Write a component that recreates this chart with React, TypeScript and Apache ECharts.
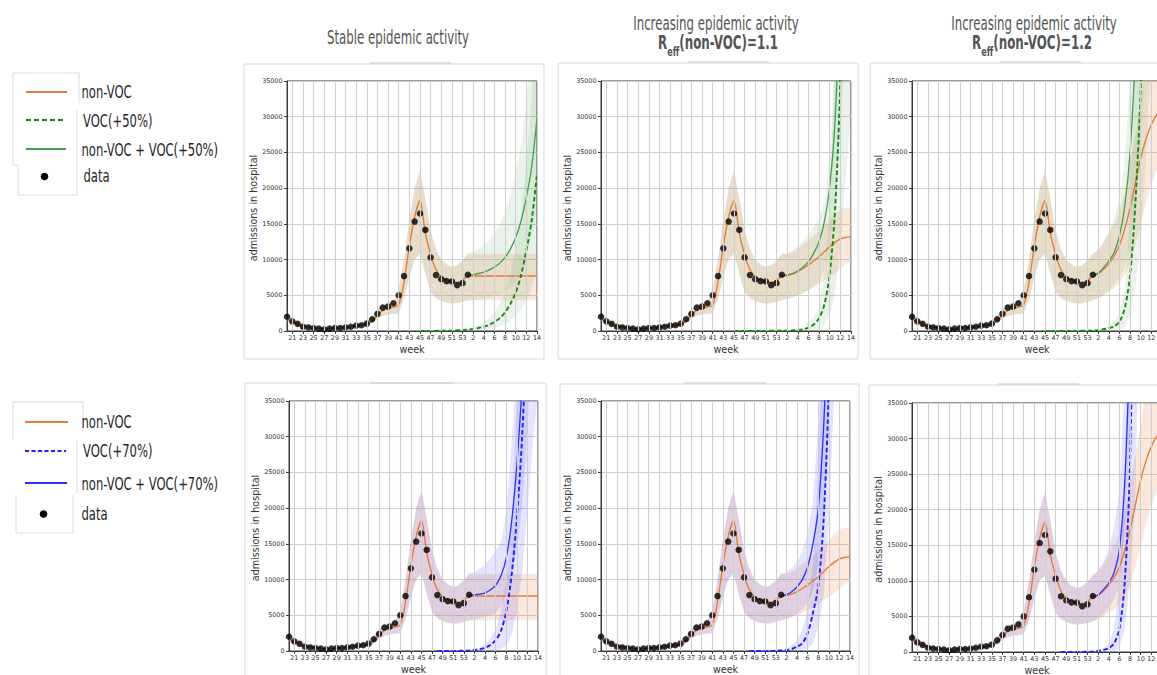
import React, { useEffect, useRef } from "react";
import * as echarts from "echarts";

// ---------- DATA ----------
// x index 0..47 : weeks 20..53 (2020) then 1..14 (2021)
const weekLabels = [
  "20", "21", "22", "23", "24", "25", "26", "27", "28", "29", "30", "31", "32", "33", "34", "35", "36",
  "37", "38", "39", "40", "41", "42", "43", "44", "45", "46", "47", "48", "49", "50", "51", "52", "53",
  "1", "2", "3", "4", "5", "6", "7", "8", "9", "10", "11", "12", "13", "14",
];

// observed weekly admissions, index 0..34
const observedAdmissions = [2000, 1350, 1000, 600, 500, 420, 330, 250, 330, 420, 420, 500, 600, 750, 800, 1030, 1640, 2390, 3280, 3420, 3890, 5010, 7690, 11570, 15320, 16450, 14150, 10310, 7830, 7260, 6980, 6940, 6420, 6700, 7870];

// fitted non-VOC model, index 0..34
const fitNonVoc = [1700, 1300, 950, 700, 550, 430, 350, 300, 320, 380, 430, 500, 580, 680, 780, 950, 1400, 2200, 2900, 3150, 3350, 3650, 6900, 11900, 16000, 18200, 13700, 10700, 8600, 7600, 7200, 6900, 6800, 7100, 7700];
const fitLow = [1300, 950, 700, 500, 400, 300, 250, 200, 220, 260, 300, 350, 420, 500, 580, 700, 1050, 1700, 2100, 2300, 2400, 2500, 4500, 7500, 10000, 10800, 8000, 5500, 4600, 4200, 3950, 3850, 3900, 4100, 4300];
const fitHigh = [2700, 1900, 1400, 1000, 800, 650, 520, 450, 480, 550, 620, 720, 850, 1000, 1150, 1400, 2000, 3000, 3700, 3900, 4100, 5800, 10000, 15500, 20000, 22500, 18500, 14000, 11500, 10000, 9300, 9000, 9200, 9900, 10800];

// non-VOC forecasts, index 34..47
const nonVocStable = [7700, 7700, 7700, 7700, 7700, 7700, 7700, 7700, 7700, 7700, 7700, 7700, 7700, 7700];
const nonVocStableLow = [4300, 4300, 4300, 4300, 4300, 4300, 4300, 4300, 4300, 4300, 4300, 4300, 4300, 4300];
const nonVocStableHigh = [10800, 10800, 10800, 10800, 10800, 10800, 10800, 10800, 10800, 10800, 10800, 10800, 10800, 10800];
const nonVocR11 = [7700, 7750, 7950, 8300, 8750, 9250, 9800, 10400, 11100, 11800, 12400, 12900, 13100, 13200];
const nonVocR11Low = [4300, 4500, 4700, 5000, 5300, 5700, 6100, 6600, 7100, 7600, 8100, 8700, 9300, 9800];
const nonVocR11High = [10800, 10800, 11100, 11600, 12100, 12700, 13300, 14000, 14700, 15500, 16300, 17000, 17300, 17300];
const nonVocR12 = [7700, 8000, 8600, 9400, 10500, 12000, 14300, 17200, 20700, 24200, 26900, 28900, 30300, 31300];
const nonVocR12Low = [4300, 4600, 5000, 5500, 6000, 6700, 7800, 9500, 12000, 15000, 18000, 20500, 22500, 24000];
const nonVocR12High = [10800, 11300, 12300, 13600, 15000, 16500, 19500, 23500, 27500, 32000, 37000, 42000, 46000, 50000];

// VOC forecasts, index 25..47
const voc50Stable = [7, 10, 15, 22, 30, 45, 65, 95, 140, 200, 290, 420, 600, 870, 1250, 1800, 2600, 3800, 5400, 7800, 11300, 15500, 22000];
const voc50StableLow = [3, 4, 6, 8, 12, 17, 25, 37, 54, 77, 110, 160, 230, 330, 480, 690, 1000, 1460, 2100, 3000, 4300, 6000, 8500];
const voc50StableHigh = [15, 21, 32, 46, 63, 95, 140, 200, 290, 420, 610, 880, 1260, 1830, 2600, 3800, 5500, 8000, 11300, 16400, 23700, 32500, 46000];
const voc50R11 = [5, 6, 8, 10, 13, 17, 22, 28, 37, 50, 70, 100, 150, 230, 470, 900, 1800, 3700, 8000, 17000, 35000, 70000, null];
const voc50R11Low = [0, 0, 0, 0, 0, 0, 0, 0, 0, 5, 10, 15, 25, 40, 80, 170, 350, 900, 2200, 5500, 11600, 21800, 30500];
const voc50R11High = [10, 12, 16, 20, 26, 34, 44, 56, 74, 100, 140, 200, 300, 500, 1200, 2000, 3200, 7800, 17100, 40000, 80000, 150000, 200000];
const voc50R12 = [5, 6, 8, 10, 13, 17, 22, 30, 40, 60, 120, 250, 400, 650, 1300, 3200, 7800, 18000, 34000, 65000, null, null, null];
const voc50R12Low = [0, 0, 0, 0, 0, 0, 0, 0, 0, 5, 15, 30, 60, 110, 200, 500, 2200, 6000, 12500, 24000, 40000, 70000, 120000];
const voc50R12High = [12, 15, 20, 25, 32, 42, 55, 75, 100, 150, 270, 500, 800, 1300, 2500, 6000, 15700, 40000, 90000, 180000, 200000, 200000, 200000];
const voc70Stable = [null, null, null, 5, 7, 10, 15, 20, 35, 65, 130, 250, 450, 850, 1500, 2800, 5500, 10500, 18500, 30000, 48000, 75000, null];
const voc70StableLow = [null, null, null, 0, 0, 0, 0, 0, 0, 0, 5, 15, 30, 60, 120, 250, 700, 2200, 5500, 11000, 19600, 29000, 36000];
const voc70StableHigh = [null, null, null, 10, 14, 20, 30, 45, 70, 130, 260, 500, 900, 1800, 3000, 5600, 10000, 17000, 35000, 60000, 100000, 160000, 200000];
const voc70R11 = [null, null, null, 5, 7, 10, 14, 20, 30, 60, 120, 280, 610, 1080, 2480, 5290, 9030, 18000, 37000, 75000, null, null, null];
const voc70R11Low = [null, null, null, 0, 0, 0, 0, 0, 0, 0, 0, 0, 50, 150, 350, 1000, 3400, 7600, 18000, 36000, 60000, 100000, 160000];
const voc70R11High = [null, null, null, 10, 14, 20, 28, 40, 60, 120, 250, 800, 1500, 3000, 6000, 12000, 25000, 50000, 100000, 200000, 200000, 200000, 200000];
const voc70R12 = [null, null, null, 5, 7, 10, 14, 20, 35, 60, 150, 300, 550, 1200, 3300, 9900, 26800, 70000, null, null, null, null, null];
const voc70R12Low = [null, null, null, 0, 0, 0, 0, 0, 0, 0, 0, 20, 50, 100, 500, 3300, 9900, 22000, 60000, 120000, 200000, 200000, 200000];
const voc70R12High = [null, null, null, 10, 14, 20, 28, 40, 70, 120, 300, 500, 1200, 3300, 9900, 24000, 60000, 150000, 200000, 200000, 200000, 200000, 200000];

// non-VOC + VOC totals, index 34..47
const total50Stable = [7800, 7900, 8050, 8250, 8550, 8950, 9500, 10300, 11500, 13100, 15400, 18700, 23000, 29800];
const total50StableLow = [4300, 4350, 4400, 4500, 4650, 4850, 5100, 5500, 6100, 7000, 8300, 10300, 13000, 17000];
const total50StableHigh = [10800, 11100, 11500, 12000, 12700, 13600, 15000, 16500, 19000, 22000, 26000, 32000, 40000, 52000];
const total50R11 = [7800, 7850, 8050, 8400, 8950, 9700, 10900, 12500, 15300, 20200, 29400, 48000, null, null];
const total50R11Low = [4300, 4500, 4700, 5000, 5300, 5700, 6200, 7000, 8500, 12000, 18000, 28000, 40000, 60000];
const total50R11High = [10800, 10900, 11300, 11900, 12600, 13500, 14600, 15900, 18000, 24000, 38000, 60000, 100000, 160000];
const total50R12 = [7800, 8100, 8850, 9800, 11000, 13300, 17500, 25000, 38800, 58000, null, null, null, null];
const total50R12Low = [4300, 4600, 5000, 5600, 6400, 7500, 9000, 12000, 18000, 27000, 40000, 60000, 90000, 140000];
const total50R12High = [10800, 11400, 12500, 14000, 15800, 18500, 24000, 35000, 52000, 80000, 130000, 200000, 200000, 200000];
const total70Stable = [7800, 7850, 7950, 8150, 8550, 9200, 10500, 13000, 18000, 26000, 37500, 56000, null, null];
const total70StableLow = [4300, 4400, 4600, 4800, 5000, 5300, 6200, 7900, 10500, 14000, 20400, 31000, 45000, 65000];
const total70StableHigh = [10800, 11000, 11500, 12000, 13000, 14000, 15300, 19500, 28800, 40000, 60000, 90000, 130000, 180000];
const total70R11 = [7800, 7900, 8300, 9000, 10000, 11800, 15000, 19800, 31000, 48000, null, null, null, null];
const total70R11Low = [4300, 4500, 4800, 5200, 5800, 6700, 8500, 12000, 18000, 30000, 50000, 80000, 120000, 180000];
const total70R11High = [10800, 11000, 11600, 12500, 14000, 16500, 21000, 32000, 50000, 90000, 150000, 200000, 200000, 200000];
const total70R12 = [7800, 8000, 8800, 9700, 11200, 14500, 24000, 44000, null, null, null, null, null, null];
const total70R12Low = [4300, 4700, 5300, 6200, 7500, 9000, 17000, 31000, 60000, 120000, 200000, 200000, 200000, 200000];
const total70R12High = [10800, 11500, 12700, 14500, 17500, 23000, 38000, 80000, 150000, 200000, 200000, 200000, 200000, 200000];

const yTicksMax = 35000;
const yTickStep = 5000;

// ---------- STYLE / LAYOUT ----------
const CONDENSED = "'Liberation Sans Narrow', 'DejaVu Sans Condensed', 'Roboto', sans-serif";
const AXIS_FONT = "'DejaVu Sans', sans-serif";
const ORANGE = "#e27d3c";
const ORANGE_BAND = "rgba(235,140,80,0.2)";
const SCHEMES: any = {
  green: { line: "#3f9f4f", dash: "#168716", band: "rgba(60,150,60,0.11)" },
  blue: { line: "#2f2ff2", dash: "#1f1fff", band: "rgba(30,30,255,0.12)" },
};

const panels = [
  { left: 287, top: 81, width: 250, height: 250, clipped: false, scheme: "green", nv: [nonVocStable, nonVocStableLow, nonVocStableHigh], voc: [voc50Stable, voc50StableLow, voc50StableHigh], tot: [total50Stable, total50StableLow, total50StableHigh] },
  { left: 601, top: 81, width: 250, height: 250, clipped: false, scheme: "green", nv: [nonVocR11, nonVocR11Low, nonVocR11High], voc: [voc50R11, voc50R11Low, voc50R11High], tot: [total50R11, total50R11Low, total50R11High] },
  { left: 912, top: 81, width: 250, height: 250, clipped: true, scheme: "green", nv: [nonVocR12, nonVocR12Low, nonVocR12High], voc: [voc50R12, voc50R12Low, voc50R12High], tot: [total50R12, total50R12Low, total50R12High] },
  { left: 289, top: 401, width: 249, height: 250, clipped: false, scheme: "blue", nv: [nonVocStable, nonVocStableLow, nonVocStableHigh], voc: [voc70Stable, voc70StableLow, voc70StableHigh], tot: [total70Stable, total70StableLow, total70StableHigh] },
  { left: 601, top: 401, width: 249, height: 250, clipped: false, scheme: "blue", nv: [nonVocR11, nonVocR11Low, nonVocR11High], voc: [voc70R11, voc70R11Low, voc70R11High], tot: [total70R11, total70R11Low, total70R11High] },
  { left: 912, top: 403, width: 250, height: 249, clipped: true, scheme: "blue", nv: [nonVocR12, nonVocR12Low, nonVocR12High], voc: [voc70R12, voc70R12Low, voc70R12High], tot: [total70R12, total70R12Low, total70R12High] },
];

const range = (s: number, n: number) => Array.from({ length: n }, (_, i) => s + i);
const allX = range(0, 48);
const fitX = range(0, 35);
const fcX = range(34, 14);
const vocX = range(25, 23);
const oddTicks = range(0, 24).map((i) => 2 * i + 1);

function pairs(xs: number[], ys: (number | null)[]) {
  return xs.map((x, i) => [x, ys[i]]).filter((p) => p[1] != null);
}
function triples(xs: number[], lo: (number | null)[], hi: (number | null)[]) {
  return xs.map((x, i) => [x, lo[i], hi[i]]).filter((p) => p[1] != null && p[2] != null);
}

function bandSeries(gi: number, data: any[], fill: string) {
  return {
    type: "custom",
    xAxisIndex: gi,
    yAxisIndex: gi,
    clip: true,
    silent: true,
    z: 2,
    data,
    encode: { x: 0, y: [1, 2] },
    renderItem: (params: any, api: any) => {
      if (params.dataIndex !== 0) return null;
      const top = data.map((d: any) => api.coord([d[0], d[2]]));
      const bottom = data.map((d: any) => api.coord([d[0], d[1]])).reverse();
      return { type: "polygon", shape: { points: top.concat(bottom) }, style: { fill, stroke: null } };
    },
  };
}

function lineSeries(gi: number, data: any[], color: string, width: number, dashed = false) {
  return {
    type: "line",
    xAxisIndex: gi,
    yAxisIndex: gi,
    data,
    symbol: "none",
    showSymbol: false,
    smooth: 0.3,
    clip: true,
    silent: true,
    z: 3,
    lineStyle: { color, width, type: dashed ? [4.5, 2.6] : "solid" },
  };
}

function buildOption() {
  const grid: any[] = [];
  const xAxis: any[] = [];
  const yAxis: any[] = [];
  const series: any[] = [];
  const graphic: any[] = [];

  panels.forEach((p, gi) => {
    const sc = SCHEMES[p.scheme];
    const labelTicks = p.clipped ? oddTicks.filter((v) => v < 47) : oddTicks;
    grid.push({ left: p.left, top: p.top, width: p.width, height: p.height, show: true, borderColor: "#3a3a3a", borderWidth: 1, backgroundColor: "transparent", containLabel: false, outerBoundsMode: "none" });
    xAxis.push({
      gridIndex: gi, type: "value", min: 0, max: 47,
      axisLine: { show: true, onZero: false, lineStyle: { color: "#3a3a3a", width: 1 } },
      axisTick: { show: true, customValues: oddTicks, length: 3, lineStyle: { color: "#3a3a3a" } },
      axisLabel: { customValues: labelTicks, formatter: (v: number) => weekLabels[v] ?? "", fontSize: 6.4, color: "#333", margin: 4, fontFamily: AXIS_FONT },
      splitLine: { show: false },
    });
    yAxis.push({
      gridIndex: gi, type: "value", min: 0, max: yTicksMax, interval: yTickStep,
      axisLine: { show: true, lineStyle: { color: "#3a3a3a", width: 1 } },
      axisTick: { show: true, length: 3, lineStyle: { color: "#3a3a3a" } },
      axisLabel: { fontSize: 6.4, color: "#333", margin: 4.5, fontFamily: AXIS_FONT, formatter: (v: number) => String(v) },
      splitLine: { show: true, lineStyle: { color: "#cfcfcf", width: 1.1 } },
    });
    // vertical grid lines
    series.push({
      type: "line", xAxisIndex: gi, yAxisIndex: gi, data: [[0, 0]], symbol: "none", silent: true, z: 1,
      lineStyle: { opacity: 0 },
      markLine: {
        silent: true, symbol: ["none", "none"], label: { show: false }, animation: false,
        lineStyle: { color: "#cfcfcf", width: 1.1, type: "solid" },
        data: oddTicks.map((v) => ({ xAxis: v })),
      },
    });
    const [nv, nvLo, nvHi] = p.nv;
    const [voc, vocLo, vocHi] = p.voc;
    const [tot, totLo, totHi] = p.tot;
    // bands
    series.push(bandSeries(gi, triples(allX, fitLow.concat(nvLo.slice(1)), fitHigh.concat(nvHi.slice(1))), ORANGE_BAND));
    series.push(bandSeries(gi, triples(allX, fitLow.concat(totLo.slice(1) as number[]), fitHigh.concat(totHi.slice(1) as number[])), sc.band));
    series.push(bandSeries(gi, triples(vocX, vocLo, vocHi), sc.band));
    // lines
    series.push(lineSeries(gi, pairs(allX, fitNonVoc.concat(nv.slice(1))), ORANGE, 1.4));
    series.push(lineSeries(gi, pairs(fcX, tot), sc.line, 1.3));
    series.push(lineSeries(gi, pairs(vocX, voc), sc.dash, 1.9, true));
    // observed data
    series.push({
      type: "scatter", xAxisIndex: gi, yAxisIndex: gi, data: pairs(fitX, observedAdmissions),
      symbol: "circle", symbolSize: 6.5, itemStyle: { color: "#000" }, z: 4, silent: true,
    });

    // axis names
    graphic.push({
      type: "text", x: p.left - 33.5, y: p.top + p.height / 2 + 2, rotation: Math.PI / 2,
      style: { text: "admissions in hospital", fontSize: 9.6, fontFamily: AXIS_FONT, fill: "#333", align: "center", verticalAlign: "middle", textAlign: "center", textVerticalAlign: "middle" },
    });
    graphic.push({
      type: "text", x: p.left + p.width / 2, y: p.top + p.height + 18,
      style: { text: "week", fontSize: 9.6, fontFamily: AXIS_FONT, fill: "#333", align: "center", verticalAlign: "middle", textAlign: "center", textVerticalAlign: "middle" },
    });
  });

  // panel frames (screenshot borders)
  const frames = [
    [244, 64, 300, 295], [558, 63, 300, 296], [870, 63, 300, 296],
    [245, 383, 301, 300], [560, 384, 299, 300], [869, 385, 300, 300],
  ];
  frames.forEach(([x, y, w, h]) => {
    graphic.push({ type: "rect", z: -10, shape: { x, y, width: w, height: h }, style: { fill: "none", stroke: "#d8d8d8", lineWidth: 1 } });
  });
  const tabs = [[370, 451, 63], [688, 769, 62], [1000, 1081, 62], [370, 453, 383], [684, 766, 383], [998, 1079, 384]];
  tabs.forEach(([x1, x2, y]) => {
    graphic.push({ type: "line", z: -9, shape: { x1, y1: y, x2, y2: y }, style: { stroke: "#c6c6c6", lineWidth: 1.2 } });
  });

  // titles
  const titleStyle = { fontFamily: CONDENSED, fontSize: 20, fill: "#555", align: "center", verticalAlign: "middle", textAlign: "center", textVerticalAlign: "middle" };
  graphic.push({ type: "text", x: 398, y: 37, scaleX: 0.655, style: { ...titleStyle, text: "Stable epidemic activity" } });
  graphic.push({ type: "text", x: 716, y: 23, scaleX: 0.655, style: { ...titleStyle, text: "Increasing epidemic activity" } });
  graphic.push({ type: "text", x: 1034, y: 23, scaleX: 0.655, style: { ...titleStyle, text: "Increasing epidemic activity" } });
  const reffRich = {
    b: { fontSize: 19, fontWeight: "bold", fontFamily: CONDENSED, verticalAlign: "top" },
    s: { fontSize: 13, fontWeight: "bold", fontFamily: CONDENSED, padding: [12, 0, 0, 0] },
  };
  graphic.push({ type: "text", x: 718, y: 33.5, scaleX: 0.695, style: { text: "{b|R}{s|eff}{b|(non-VOC)=1.1}", fill: "#555", align: "center", verticalAlign: "top", textAlign: "center", textVerticalAlign: "top", rich: reffRich } });
  graphic.push({ type: "text", x: 1032, y: 33.5, scaleX: 0.695, style: { text: "{b|R}{s|eff}{b|(non-VOC)=1.2}", fill: "#555", align: "center", verticalAlign: "top", textAlign: "center", textVerticalAlign: "top", rich: reffRich } });

  // legends
  const legendText = (text: string, x: number, y: number) => ({
    type: "text", x, y, scaleX: 0.758,
    style: { text, fontFamily: CONDENSED, fontSize: 17, fill: "#262626", align: "left", verticalAlign: "middle", textAlign: "left", textVerticalAlign: "middle" },
  });
  const gl = (x1: number, y1: number, x2: number, y2: number) => ({ type: "line", z: -9, shape: { x1, y1, x2, y2 }, style: { stroke: "#dcdcdc", lineWidth: 1 } });
  // top legend
  graphic.push(gl(13, 73, 79, 73), gl(79, 73, 79, 103), gl(13, 73, 13, 165), gl(77, 110, 77, 195), gl(13, 165, 18, 165), gl(18, 165, 18, 195), gl(18, 195, 77, 195));
  graphic.push({ type: "line", shape: { x1: 26, y1: 92, x2: 67, y2: 92 }, style: { stroke: ORANGE, lineWidth: 1.8 } });
  graphic.push({ type: "line", shape: { x1: 26, y1: 120, x2: 66, y2: 120 }, style: { stroke: SCHEMES.green.dash, lineWidth: 2, lineDash: [5, 3] } });
  graphic.push({ type: "line", shape: { x1: 26, y1: 149, x2: 66, y2: 149 }, style: { stroke: SCHEMES.green.line, lineWidth: 1.8 } });
  graphic.push({ type: "circle", shape: { cx: 44.5, cy: 176.5, r: 3.8 }, style: { fill: "#000" } });
  graphic.push(legendText("non-VOC", 81.5, 92), legendText("VOC(+50%)", 83, 121.5), legendText("non-VOC + VOC(+50%)", 81.5, 150), legendText("data", 83.5, 176.5));
  // bottom legend
  graphic.push(gl(13, 402, 83, 402), gl(83, 402, 83, 432), gl(13, 402, 13, 440), gl(77, 440, 77, 493), gl(16, 495, 16, 533), gl(16, 533, 73, 533), gl(73, 495, 73, 533));
  graphic.push({ type: "line", shape: { x1: 25, y1: 422, x2: 68, y2: 422 }, style: { stroke: ORANGE, lineWidth: 1.8 } });
  graphic.push({ type: "line", shape: { x1: 25, y1: 451, x2: 66, y2: 451 }, style: { stroke: SCHEMES.blue.dash, lineWidth: 2, lineDash: [4, 2.5] } });
  graphic.push({ type: "line", shape: { x1: 25, y1: 483, x2: 67, y2: 483 }, style: { stroke: SCHEMES.blue.line, lineWidth: 1.8 } });
  graphic.push({ type: "circle", shape: { cx: 43.5, cy: 514, r: 3.8 }, style: { fill: "#000" } });
  graphic.push(legendText("non-VOC", 81.5, 422), legendText("VOC(+70%)", 83, 451.5), legendText("non-VOC + VOC(+70%)", 81.5, 484), legendText("data", 81.5, 514));

  return { animation: false, backgroundColor: "#fff", grid, xAxis, yAxis, series, graphic };
}

export default function App() {
  const ref = useRef<HTMLDivElement>(null);
  useEffect(() => {
    const chart = echarts.init(ref.current!, null, { renderer: "svg" });
    chart.setOption(buildOption() as any);
    return () => chart.dispose();
  }, []);
  return <div ref={ref} style={{ position: "fixed", left: 0, top: 0, width: 1157, height: 675, background: "#fff" }} />;
}
